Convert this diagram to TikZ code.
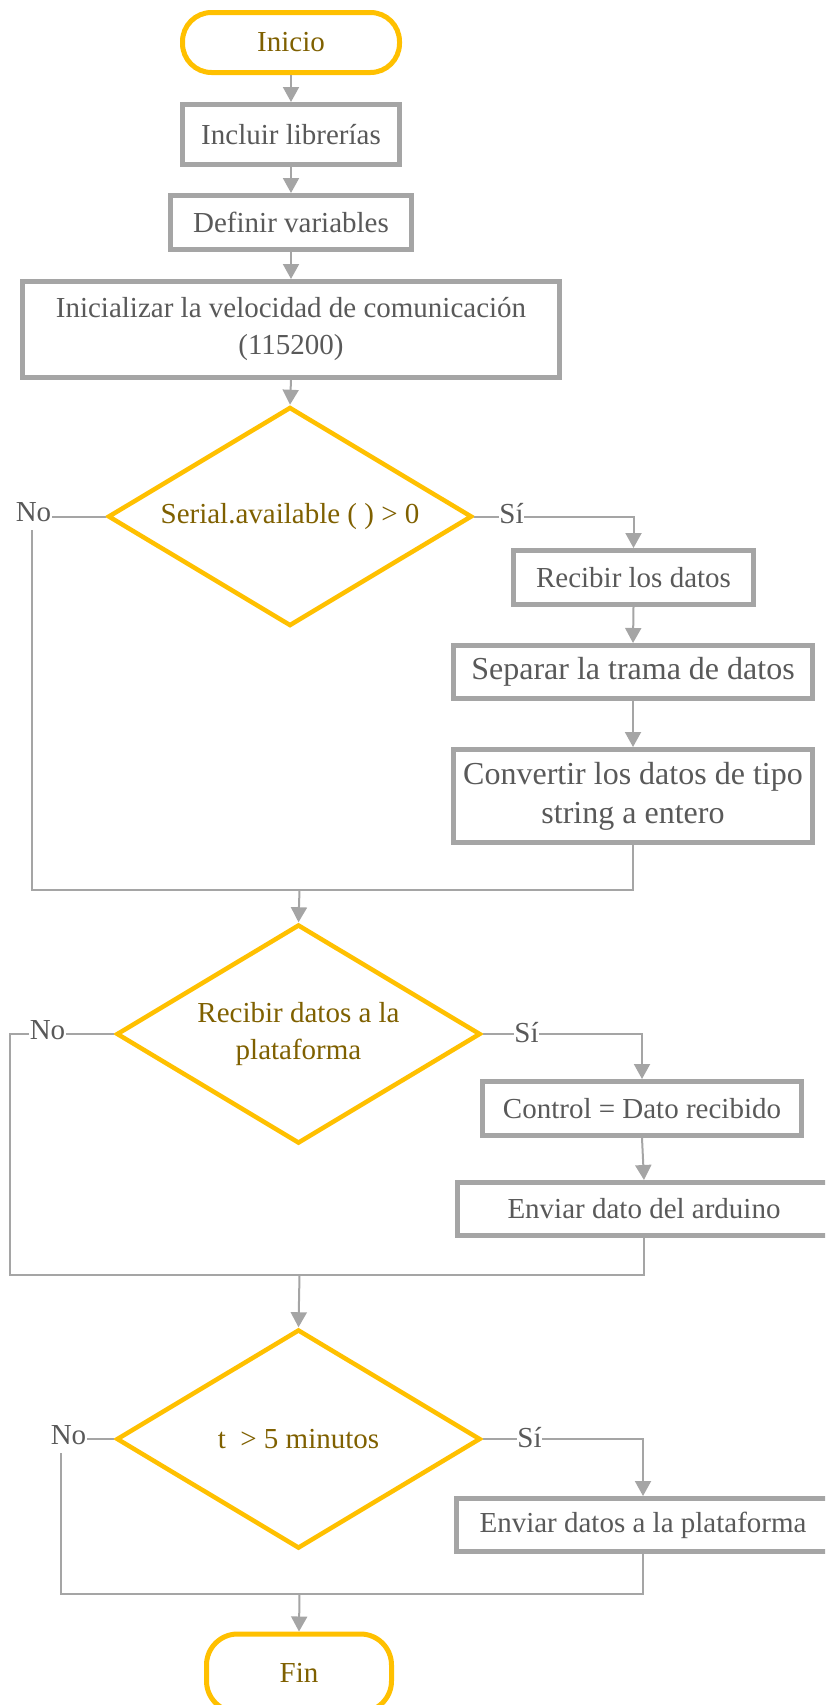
\documentclass[tikz,border=0pt]{standalone}
\usepackage{fontspec}
\setmainfont{Liberation Serif}
\usetikzlibrary{shapes.geometric,arrows.meta}
\definecolor{lgray}{HTML}{A5A5A5}
\definecolor{tgray}{HTML}{595959}
\definecolor{gold}{HTML}{FFC000}
\definecolor{dgold}{HTML}{7F6000}
\begin{document}
\begin{tikzpicture}[x=1pt,y=-1pt,
  every node/.style={font=\fontsize{29}{37}\selectfont},
  procbox/.style={draw=lgray, line width=5pt, text=tgray, rectangle, inner sep=0pt, align=center},
  termbox/.style={draw=gold, line width=5pt, text=dgold, rectangle, rounded corners=29pt, inner sep=0pt},
  decbox/.style={draw=gold, line width=4.5pt, text=dgold, diamond, shape aspect=1.662, inner sep=0pt, align=center, minimum width=364pt, minimum height=219pt},
  lbl/.style={text=tgray, inner sep=0.5pt},
  conn/.style={draw=lgray, line width=2pt},
  arr/.style={conn, -{Triangle[width=16pt,length=15pt]}},
]
\useasboundingbox (0,0) rectangle (825,1705);
\clip (0,0) rectangle (825,1705);

% nodes
\node[termbox, minimum width=217pt, minimum height=60pt] (inicio) at (291,42.5) {Inicio};
\node[procbox, minimum width=217pt, minimum height=60pt] (incluir) at (291,134.5) {Incluir librerías};
\node[procbox, minimum width=241pt, minimum height=54pt] (definir) at (291,222.5) {Definir variables};
\node[procbox, minimum width=537pt, minimum height=96pt] (inicializar) at (291,329.5) {Inicializar la velocidad de comunicación\\(115200)};
\node[decbox] (D1) at (290,516.5) {Serial.available ( ) > 0};
\node[procbox, minimum width=240pt, minimum height=54pt] (recibir) at (633.5,577.5) {Recibir los datos};
\node[procbox, minimum width=359pt, minimum height=53pt, font=\fontsize{32}{39}\selectfont] (separar) at (633,672) {Separar la trama de datos};
\node[procbox, minimum width=359pt, minimum height=93pt, font=\fontsize{32}{39}\selectfont] (convertir) at (633,796) {Convertir los datos de tipo\\string a entero};
\node[decbox] (D2) at (298.5,1034) {Recibir datos a la\\plataforma};
\node[procbox, minimum width=319pt, minimum height=54pt] (control) at (642,1108.5) {Control = Dato recibido};
\node[procbox, minimum width=373pt, minimum height=53pt] (enviar1) at (644,1209) {Enviar dato del arduino};
\node[decbox] (D3) at (298.5,1439) {t~~> 5 minutos};
\node[procbox, minimum width=373pt, minimum height=53pt] (enviar2) at (643,1525) {Enviar datos a la plataforma};
\node[termbox, minimum width=185pt, minimum height=78pt, rounded corners=31pt] (fin) at (299,1673) {Fin};

% labels
\node[lbl] (no1) at (33.5,512) {No};
\node[lbl] (si1) at (511.5,514) {Sí};
\node[lbl] (no2) at (47.5,1030) {No};
\node[lbl] (si2) at (526.5,1033) {Sí};
\node[lbl] (no3) at (68.5,1435) {No};
\node[lbl] (si3) at (529.5,1438) {Sí};

% coordinates
\coordinate (m1) at (299.5,890);
\coordinate (m2) at (299.5,1275);
\coordinate (m3) at (299.5,1594);
\coordinate (c1) at (32,530);
\coordinate (c2) at (10,1034);
\coordinate (c3) at (61,1453);

% top chain
\draw[arr] (inicio.south) -- (incluir.north);
\draw[arr] (incluir.south) -- (definir.north);
\draw[arr] (definir.south) -- (inicializar.north);
\draw[arr] (inicializar.south) -- (D1.north);

% decision 1
\draw[conn] (D1.west) -- (D1.west -| no1.east);
\draw[conn] (c1) |- (m1);
\draw[conn] (D1.east) -- (D1.east -| si1.west);
\draw[arr] (D1.east -| si1.east) -| (recibir.north);
\draw[arr] (recibir.south) -- (separar.north);
\draw[arr] (separar.south) -- (convertir.north);
\draw[conn] (convertir.south) |- (m1);
\draw[arr] (m1) -- (D2.north);

% decision 2
\draw[conn] (D2.west) -- (D2.west -| no2.east);
\draw[conn] (D2.west -| no2.west) -- (c2) |- (m2);
\draw[conn] (D2.east) -- (D2.east -| si2.west);
\draw[arr] (D2.east -| si2.east) -| (control.north);
\draw[arr] (control.south) -- (enviar1.north);
\draw[conn] (enviar1.south) |- (m2);
\draw[arr] (m2) -- (D3.north);

% decision 3
\draw[conn] (D3.west) -- (D3.west -| no3.east);
\draw[conn] (c3) |- (m3);
\draw[conn] (D3.east) -- (D3.east -| si3.west);
\draw[arr] (D3.east -| si3.east) -| (enviar2.north);
\draw[conn] (enviar2.south) |- (m3);
\draw[arr] (m3) -- (fin.north);
\end{tikzpicture}
\end{document}
